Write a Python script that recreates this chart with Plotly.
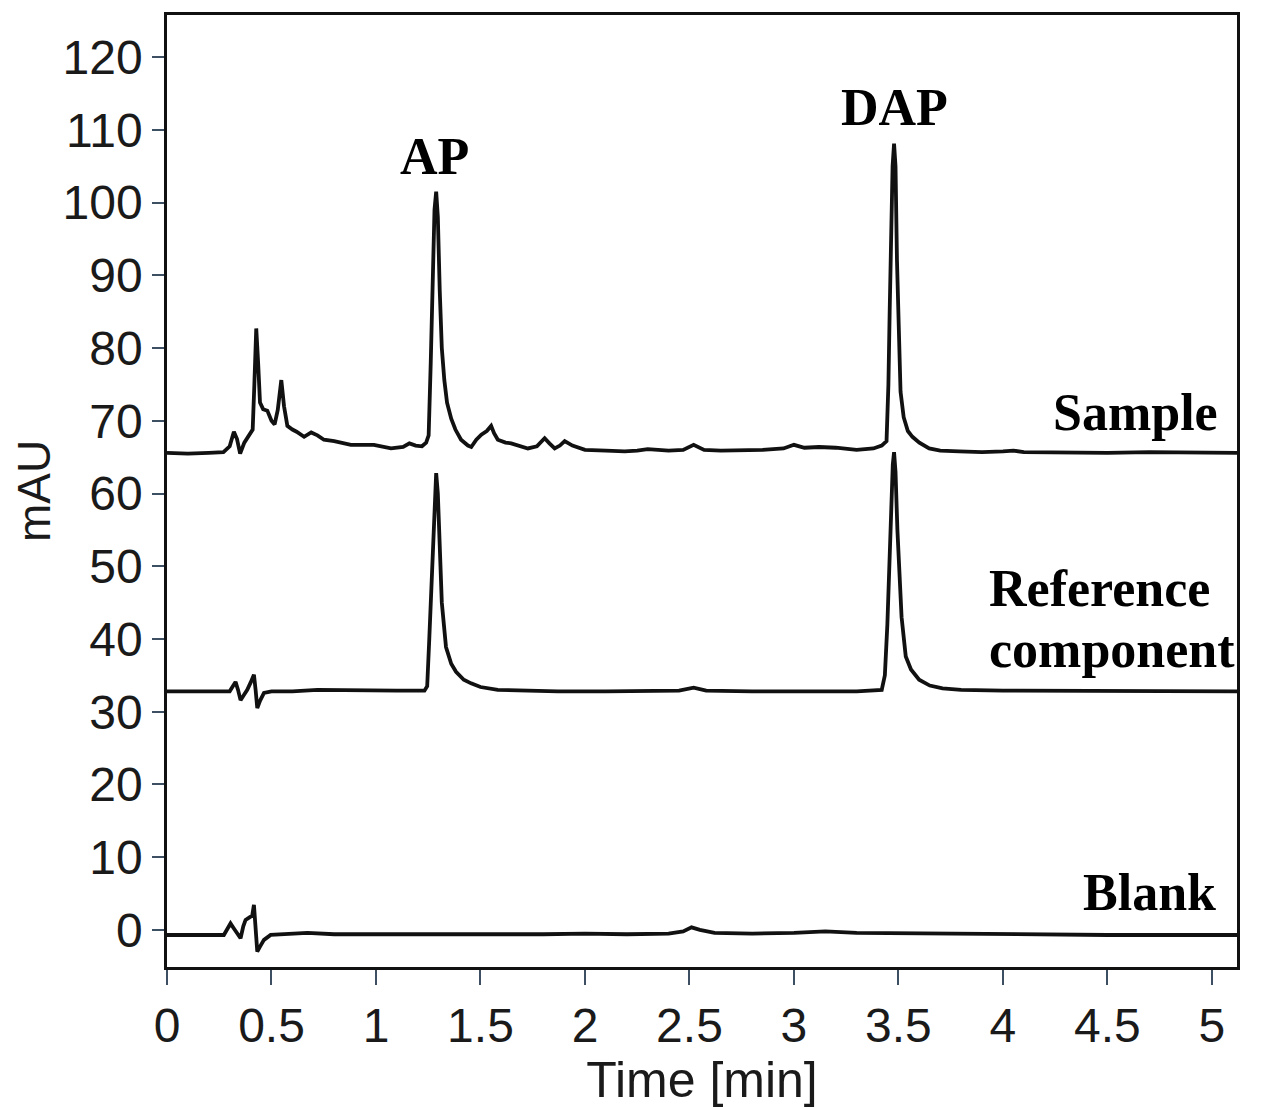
import plotly.graph_objects as go

# ---- Sample trace (time [min], mAU) ----
sample_t = [0.00, 0.10, 0.20, 0.27, 0.30, 0.32, 0.335, 0.35, 0.37, 0.39, 0.41, 0.418, 0.427, 0.436,
            0.445, 0.46, 0.48, 0.50, 0.515, 0.53, 0.547, 0.56, 0.576, 0.60, 0.62, 0.656, 0.69, 0.72,
            0.751, 0.80, 0.88, 0.99, 1.072, 1.13, 1.16, 1.19, 1.22, 1.24, 1.252, 1.262, 1.270, 1.280,
            1.288, 1.296, 1.305, 1.315, 1.327, 1.34, 1.36, 1.38, 1.407, 1.44, 1.456, 1.48, 1.504,
            1.53, 1.551, 1.565, 1.583, 1.62, 1.647, 1.70, 1.727, 1.77, 1.807, 1.83, 1.855, 1.88,
            1.903, 1.94, 2.00, 2.10, 2.19, 2.25, 2.30, 2.40, 2.47, 2.52, 2.57, 2.65, 2.75, 2.85,
            2.95, 3.00, 3.05, 3.12, 3.20, 3.30, 3.38, 3.42, 3.443, 3.452, 3.458, 3.465, 3.472,
            3.479, 3.486, 3.493, 3.500, 3.51, 3.525, 3.545, 3.567, 3.60, 3.647, 3.70, 3.791,
            3.90, 4.00, 4.05, 4.10, 4.30, 4.50, 4.70, 4.90, 5.12]
sample_y = [65.6, 65.5, 65.6, 65.7, 66.5, 68.5, 67.5, 65.5, 67.0, 68.0, 68.8, 75.0, 82.7, 78.0,
            72.5, 71.6, 71.4, 70.0, 69.5, 71.5, 75.6, 72.0, 69.3, 68.8, 68.5, 67.8, 68.4, 68.0,
            67.4, 67.2, 66.7, 66.7, 66.2, 66.4, 66.9, 66.6, 66.5, 67.0, 68.0, 78.0, 88.0, 99.0,
            101.5, 98.0, 88.0, 80.0, 75.6, 72.5, 70.3, 68.8, 67.4, 66.6, 66.4, 67.4, 68.1,
            68.6, 69.3, 68.3, 67.4, 67.0, 66.9, 66.4, 66.2, 66.5, 67.6, 66.9, 66.2, 66.6,
            67.2, 66.6, 66.0, 65.9, 65.8, 65.9, 66.1, 65.9, 66.0, 66.7, 66.0, 65.9, 65.9, 66.0,
            66.2, 66.7, 66.3, 66.4, 66.3, 66.0, 66.2, 66.6, 67.2, 75.0, 85.0, 97.0, 105.0,
            108.1, 105.0, 92.0, 82.0, 74.0, 70.5, 68.6, 67.8, 67.0, 66.2, 65.9, 65.8,
            65.7, 65.8, 65.9, 65.7, 65.6, 65.6, 65.7, 65.6, 65.6]

# ---- Reference component trace ----
ref_t = [0.00, 0.20, 0.30, 0.315, 0.328, 0.34, 0.352, 0.368, 0.384, 0.40, 0.416, 0.424, 0.432,
         0.445, 0.464, 0.50, 0.60, 0.72, 0.90, 1.10, 1.232, 1.245, 1.255, 1.265, 1.278, 1.288,
         1.296, 1.305, 1.315, 1.335, 1.36, 1.383, 1.42, 1.455, 1.50, 1.583, 1.70, 1.871, 2.10,
         2.30, 2.45, 2.52, 2.58, 2.80, 3.10, 3.30, 3.42, 3.435, 3.447, 3.455, 3.465, 3.473,
         3.479, 3.486, 3.495, 3.503, 3.515, 3.535, 3.56, 3.599, 3.65, 3.711, 3.80, 4.00, 4.50, 5.12]
ref_y = [32.8, 32.8, 32.8, 33.5, 34.1, 33.0, 31.6, 32.3, 33.0, 34.0, 35.1, 33.0, 30.5,
         31.5, 32.6, 32.8, 32.8, 33.0, 32.9, 32.9, 32.9, 33.5, 40.0, 48.0, 58.0, 62.8,
         60.0, 52.0, 45.0, 38.9, 36.6, 35.5, 34.4, 33.9, 33.4, 33.0, 32.9, 32.8, 32.8,
         32.8, 32.9, 33.3, 32.9, 32.8, 32.8, 32.8, 33.0, 35.0, 42.0, 49.0, 58.0, 64.0,
         65.7, 63.0, 55.0, 49.0, 43.0, 37.6, 35.8, 34.4, 33.6, 33.2, 33.0, 32.9, 32.8, 32.8]

# ---- Blank trace ----
blank_t = [0.00, 0.20, 0.272, 0.29, 0.304, 0.32, 0.352, 0.365, 0.376, 0.40, 0.408, 0.416, 0.424,
           0.432, 0.445, 0.464, 0.496, 0.60, 0.672, 0.80, 1.00, 1.20, 1.50, 1.80, 2.00, 2.20,
           2.40, 2.47, 2.51, 2.55, 2.62, 2.80, 3.00, 3.15, 3.30, 3.60, 4.00, 4.50, 5.12]
blank_y = [-0.7, -0.7, -0.7, 0.2, 0.9, 0.2, -1.15, 0.5, 1.37, 1.83, 2.0, 3.44, 0.5,
           -2.98, -2.3, -1.37, -0.69, -0.5, -0.4, -0.6, -0.6, -0.7, -0.6, -0.6, -0.5, -0.6,
           -0.5, -0.2, 0.35, 0.0, -0.4, -0.5, -0.4, -0.2, -0.4, -0.5, -0.6, -0.7, -0.7]

x_ticks = [0, 0.5, 1, 1.5, 2, 2.5, 3, 3.5, 4, 4.5, 5]
x_tick_labels = ["0", "0.5", "1", "1.5", "2", "2.5", "3", "3.5", "4", "4.5", "5"]
y_ticks = [0, 10, 20, 30, 40, 50, 60, 70, 80, 90, 100, 110, 120]

# label texts and anchor points (data coordinates)
labels = ["AP", "DAP", "Sample", "Reference", "component", "Blank"]
label_x = [1.281, 3.479, 5.038, 3.925, 3.925, 5.029]
label_y = [106.3, 113.1, 71.2, 47.0, 38.5, 5.2]
label_anchor = ["center", "center", "right", "left", "left", "right"]

fig = go.Figure()
line_style = dict(color="#111111", width=3.8)
for t, y, name in [(sample_t, sample_y, "Sample"), (ref_t, ref_y, "Reference component"),
                   (blank_t, blank_y, "Blank")]:
    fig.add_trace(go.Scatter(x=t, y=y, mode="lines", line=line_style, name=name,
                             showlegend=False, hoverinfo="x+y"))

for txt, lx, ly, anc in zip(labels, label_x, label_y, label_anchor):
    fig.add_annotation(x=lx, y=ly, xref="x", yref="y", text="<b>%s</b>" % txt,
                       showarrow=False, xanchor=anc, yanchor="middle",
                       font=dict(family="Liberation Serif", size=52, color="#000000"))

tick_font = dict(family="Liberation Sans", size=48, color="#1a1a1a")
fig.update_xaxes(range=[0, 5.12], tickmode="array", tickvals=x_ticks, ticktext=x_tick_labels,
                 ticks="outside", ticklen=15, tickwidth=2, tickcolor="#3d4f63",
                 showline=True, linecolor="#111111", linewidth=2.5, mirror=True,
                 showgrid=False, zeroline=False, tickfont=tick_font,
                 title=dict(text="Time [min]",
                            font=dict(family="Liberation Sans", size=50, color="#1a1a1a"),
                            standoff=8))
fig.update_yaxes(range=[-5.1, 125.8], tickmode="array", tickvals=y_ticks,
                 ticks="outside", ticklen=12, tickwidth=2, tickcolor="#3d4f63",
                 showline=True, linecolor="#111111", linewidth=2.5, mirror=True,
                 showgrid=False, zeroline=False, tickfont=tick_font,
                 title=dict(text="mAU", font=dict(family="Liberation Sans", size=46, color="#1a1a1a"),
                            standoff=8))
fig.update_layout(width=1264, height=1100, plot_bgcolor="white", paper_bgcolor="white",
                  margin=dict(l=159, r=35, t=7, b=141, autoexpand=False))

fig.write_html("out.html")
